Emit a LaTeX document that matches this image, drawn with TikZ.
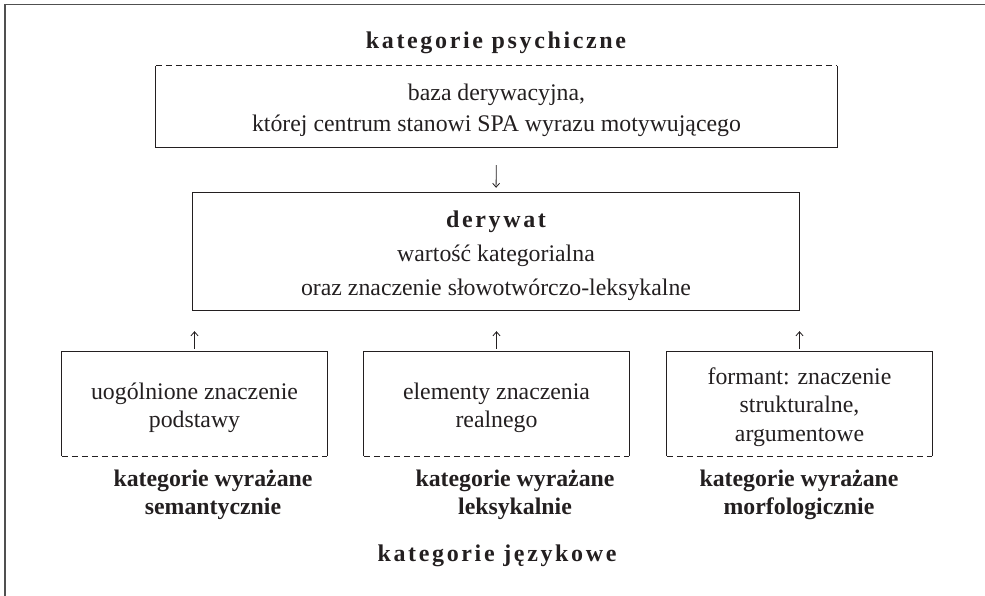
\documentclass[tikz,border=0pt]{standalone}
\usepackage{fontspec}
\setmainfont{Liberation Serif}
\newfontfamily\spaced[LetterSpace=11]{Liberation Serif}
\usetikzlibrary{arrows.meta}
\definecolor{ink}{HTML}{231F20}
\definecolor{framegray}{HTML}{505050}
\begin{document}
\begin{tikzpicture}[x=1pt,y=-1pt,
  every node/.style={text=ink, font=\fontsize{23.8}{30}\selectfont},
  boxarea/.style={inner sep=0pt, draw=none},
  boxtext/.style={inner sep=0pt, align=center},
  solidedge/.style={draw=ink, line width=1pt},
  dashedge/.style={draw=ink, line width=1pt, dash pattern=on 6pt off 4pt},
  conn/.style={draw=ink, line width=0.8pt, -{Straight Barb[length=4pt,width=7pt]}},
  titletext/.style={font=\spaced\bfseries\fontsize{24}{26}\selectfont, inner sep=0pt},
  catlabel/.style={font=\bfseries\fontsize{23.8}{28}\selectfont, align=center, inner sep=0pt},
  frameline/.style={draw=framegray, line width=1.6pt}
]
\useasboundingbox (0,0) rectangle (985,596);
\draw[frameline] (985,4.5) -- (5,4.5) -- (5,596);

% title
\node[titletext] (tpsy) at (496,43) {kategorie psychiczne};

% top box
\node[boxarea, minimum width=681pt, minimum height=81pt] (base) at (496.5,106.5) {};
\node[boxtext, font=\fontsize{23.8}{31}\selectfont] (baseT) at ([yshift=-4pt]base.center)
  {baza derywacyjna,\\której centrum stanowi SPA wyrazu motywującego};
\draw[dashedge] (base.north west) -- (base.north east);
\draw[solidedge] (base.north east) -- (base.south east) -- (base.south west) -- (base.north west);

% derywat box
\node[boxarea, minimum width=606pt, minimum height=117pt] (der) at (496,251.5) {};
\node[boxtext, font=\fontsize{23.8}{34}\selectfont] (derT) at ([yshift=-4pt]der.center)
  {{\spaced\bfseries\fontsize{24}{34}\selectfont derywat}\\wartość kategorialna\\oraz znaczenie słowotwórczo-leksykalne};
\draw[solidedge] (der.north west) rectangle (der.south east);

% bottom boxes
\node[boxarea, minimum width=265pt, minimum height=104pt] (b1) at (194.5,404) {};
\node[boxarea, minimum width=265pt, minimum height=104pt] (b2) at (496.5,404) {};
\node[boxarea, minimum width=265pt, minimum height=104pt] (b3) at (799.5,404) {};
\node[boxtext, font=\fontsize{23.8}{27.5}\selectfont] (b1T) at ([yshift=-4pt]b1.center)
  {uogólnione znaczenie\\podstawy};
\node[boxtext, font=\fontsize{23.8}{27.5}\selectfont] (b2T) at ([yshift=-4pt]b2.center)
  {elementy znaczenia\\realnego};
\node[boxtext, font=\fontsize{23.8}{28.5}\selectfont] (b3T) at ([yshift=-3pt]b3.center)
  {formant: znaczenie\\strukturalne,\\argumentowe};
\foreach \b in {b1,b2,b3}{
  \draw[solidedge] (\b.south west) -- (\b.north west) -- (\b.north east) -- (\b.south east);
  \draw[dashedge] (\b.south west) -- (\b.south east);
}

% arrows
\draw[conn, shorten <=18pt, shorten >=5pt] (base.south) -- (der.north);
\foreach \b in {b1,b2,b3}{
  \draw[conn, shorten <=3pt, shorten >=21pt] (\b.north) -- (\b.north |- der.south);
}

% category labels
\node[catlabel] (l1) at (213,495) {kategorie wyrażane\\semantycznie};
\node[catlabel] (l2) at (515,495) {kategorie wyrażane\\leksykalnie};
\node[catlabel] (l3) at (799,495) {kategorie wyrażane\\morfologicznie};

\node[titletext] (tjez) at (497,556) {kategorie językowe};
\end{tikzpicture}
\end{document}
